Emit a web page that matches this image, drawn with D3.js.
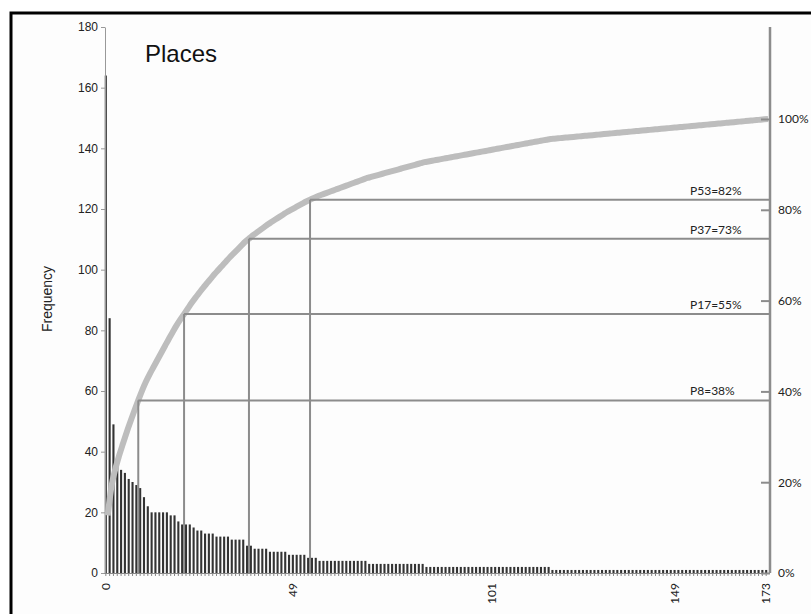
<!DOCTYPE html>
<html>
<head>
<meta charset="utf-8">
<script src="https://cdn.jsdelivr.net/npm/d3@7"></script>
<style>
  body { margin: 0; background: #fff; }
  svg { display: block; }
</style>
</head>
<body>
<svg id="chart" width="811" height="614"></svg>
<script>
// places ranked by frequency (0..173)
const categories = d3.range(0, 174);
const frequency = [
  164, 84, 49, 38, 34, 33, 31, 30, 29, 28,
  25, 22, 20, 20, 20, 20, 20, 19, 19, 17,
  16, 16, 16, 15, 14, 14, 13, 13, 13, 12,
  12, 12, 12, 11, 11, 11, 11, 9, 9, 8,
  8, 8, 8, 7, 7, 7, 7, 7, 6, 6,
  6, 6, 6, 5, 5, 5, 4, 4, 4, 4,
  4, 4, 4, 4, 4, 4, 4, 4, 4, 3,
  3, 3, 3, 3, 3, 3, 3, 3, 3, 3,
  3, 3, 3, 3, 2, 2, 2, 2, 2, 2,
  2, 2, 2, 2, 2, 2, 2, 2, 2, 2,
  2, 2, 2, 2, 2, 2, 2, 2, 2, 2,
  2, 2, 2, 2, 2, 2, 2, 1, 1, 1,
  1, 1, 1, 1, 1, 1, 1, 1, 1, 1,
  1, 1, 1, 1, 1, 1, 1, 1, 1, 1,
  1, 1, 1, 1, 1, 1, 1, 1, 1, 1,
  1, 1, 1, 1, 1, 1, 1, 1, 1, 1,
  1, 1, 1, 1, 1, 1, 1, 1, 1, 1,
  1, 1, 1, 1
];
const xTickLabels = [0, 49, 101, 149, 173];
const yTicks = [0, 20, 40, 60, 80, 100, 120, 140, 160, 180];
const pctTicks = [0, 20, 40, 60, 80, 100];
const refIndex = [8, 20, 37, 53];
const refLabels = ["P8=38%", "P17=55%", "P37=73%", "P53=82%"];

const svg = d3.select('#chart');
const labelFont = 'Lato, "Liberation Sans Narrow", sans-serif';
const arialFont = '"Liberation Sans", Arial, sans-serif';

// frame
svg.append('rect')
  .attr('x', 11).attr('y', 13).attr('width', 900).attr('height', 700)
  .attr('fill', '#fdfdfd').attr('stroke', '#000').attr('stroke-width', 3);

const x = d3.scaleBand().domain(categories).range([104, 768])
  .paddingInner(0.45).paddingOuter(0.2);
const y = d3.scaleLinear().domain([0, 180]).range([573, 27]);
const yPct = d3.scaleLinear().domain([0, 100]).range([573, 119]);
const xRight = 770;

const total = d3.sum(frequency);
const cum = d3.cumsum(frequency).map(v => v / total * 100);
const edge = i => x(i) + x.bandwidth() / 2 + x.step() / 2;

// bars
svg.append('g').selectAll('rect')
  .data(categories).enter().append('rect')
  .attr('x', d => x(d)).attr('width', x.bandwidth())
  .attr('y', d => y(frequency[d]))
  .attr('height', d => y(0) - y(frequency[d]))
  .attr('fill', '#333');

// left axis
const gl = svg.append('g').attr('transform', 'translate(105,0)')
  .call(d3.axisLeft(y).tickValues(yTicks).tickSize(4).tickPadding(3).tickSizeOuter(0));
gl.select('.domain').attr('stroke', '#999');
gl.selectAll('.tick line').attr('stroke', '#999');
gl.selectAll('text').attr('font-family', arialFont).attr('font-size', 12).attr('fill', '#222');

// bottom axis ticks
const gb = svg.append('g').attr('transform', 'translate(0,573)')
  .call(d3.axisBottom(x).tickValues(categories).tickSize(3).tickFormat('').tickSizeOuter(0));
gb.select('.domain').attr('stroke', '#888');
gb.selectAll('.tick line').attr('stroke', '#888');

svg.append('g').selectAll('text')
  .data(xTickLabels).enter().append('text')
  .attr('transform', d => `translate(${x(d) + x.bandwidth() / 2},583) rotate(-90)`)
  .attr('text-anchor', 'end').attr('dy', '0.35em')
  .attr('font-family', labelFont).attr('font-size', 12).attr('fill', '#222')
  .text(d => d);

// cumulative curve
const line = d3.line().x(d => edge(d)).y(d => yPct(cum[d])).curve(d3.curveMonotoneX);
svg.append('path').datum(categories)
  .attr('d', line).attr('fill', 'none')
  .attr('stroke', '#bdbdbd').attr('stroke-width', 6);

// reference lines
const refs = svg.append('g');
refIndex.forEach((idx, k) => {
  const px = edge(idx), py = yPct(cum[idx]);
  refs.append('line').attr('x1', px).attr('x2', px).attr('y1', y(0)).attr('y2', py)
    .attr('stroke', '#8c8c8c').attr('stroke-width', 2);
  refs.append('line').attr('x1', px).attr('x2', xRight).attr('y1', py).attr('y2', py)
    .attr('stroke', '#8c8c8c').attr('stroke-width', 2);
  refs.append('text').attr('x', 690).attr('y', py - 5)
    .attr('font-family', labelFont).attr('font-size', 12).attr('fill', '#222')
    .text(refLabels[k]);
});

// right axis
svg.append('line').attr('x1', xRight).attr('x2', xRight)
  .attr('y1', y(180)).attr('y2', y(0))
  .attr('stroke', '#8c8c8c').attr('stroke-width', 2.5);
const gr = svg.append('g').attr('transform', `translate(${xRight},0)`)
  .call(d3.axisRight(yPct).tickValues(pctTicks).tickSize(-9).tickPadding(8)
    .tickFormat(d => d + '%'));
gr.select('.domain').remove();
gr.selectAll('.tick line').attr('stroke', '#8c8c8c').attr('stroke-width', 2);
gr.selectAll('text').attr('font-family', labelFont).attr('font-size', 12).attr('fill', '#222');

// titles
svg.append('text').attr('x', 145).attr('y', 62)
  .attr('font-family', arialFont).attr('font-size', 24).attr('fill', '#111')
  .text('Places');
svg.append('text').attr('transform', 'translate(52,299) rotate(-90)')
  .attr('text-anchor', 'middle')
  .attr('font-family', arialFont).attr('font-size', 14).attr('fill', '#222')
  .text('Frequency');
</script>
</body>
</html>
